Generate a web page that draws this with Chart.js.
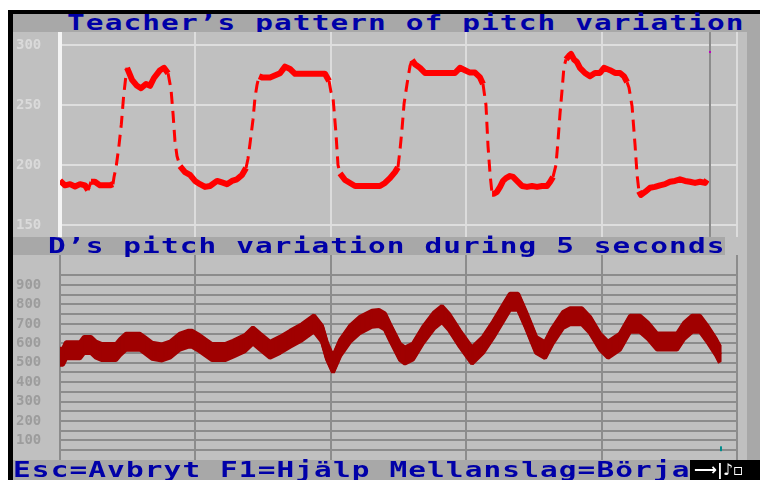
<!DOCTYPE html>
<html>
<head>
<meta charset="utf-8">
<script src="https://cdn.jsdelivr.net/npm/chart.js@4/dist/chart.umd.min.js"></script>
<style>
  html, body { margin: 0; padding: 0; background: #fff; width: 760px; height: 480px; overflow: hidden; }
  .abs { position: absolute; }
  .band { background: #a8a8a8; }
  .panel { background: #c0c0c0; }
  .dos { font-family: 'DejaVu Sans Mono', monospace; font-weight: bold; font-size: 21px;
         color: #0000a8; letter-spacing: 0.8px; white-space: pre; line-height: 18px;
         transform: scaleX(1.4); transform-origin: 0 0; }
  canvas { position: absolute; }
</style>
</head>
<body>
<div class="abs" style="left:8px;top:10px;width:752px;height:470px;background:#000"></div>

<!-- upper panel: teacher -->
<div class="abs band" style="left:13px;top:14px;width:747px;height:18px"></div>
<div class="abs dos" style="left:67px;top:14px;height:18px">Teacher’s pattern of pitch variation</div>
<div class="abs panel" style="left:13px;top:32px;width:734px;height:205px"></div>
<div class="abs band" style="left:747px;top:32px;width:13px;height:428px"></div>
<canvas id="teacher" width="734" height="205" style="left:13px;top:32px"></canvas>

<!-- lower panel: student -->
<div class="abs panel" style="left:13px;top:237px;width:734px;height:223px"></div>
<div class="abs band" style="left:13px;top:237px;width:712px;height:18px"></div>
<div class="abs dos" style="left:48px;top:237px;height:18px">D’s pitch variation during 5 seconds</div>
<canvas id="student" width="734" height="205" style="left:13px;top:255px"></canvas>

<!-- status line -->
<div class="abs band" style="left:13px;top:460px;width:677px;height:20px"></div>
<div class="abs dos" style="left:13px;top:460px;height:20px;line-height:20px">Esc=Avbryt F1=Hjälp Mellanslag=Börja</div>
<div class="abs" style="left:694px;top:460px;height:20px;line-height:20px;color:#fff;font-family:'DejaVu Sans',sans-serif;font-size:16px;font-weight:bold;white-space:pre">⟶|♪▫</div>

<script>
// ---- time axis (seconds) ----
const secondTicks = [0, 1, 2, 3, 4, 5];

// ---- teacher pitch (Hz) ----
const teacherTime = [
  0.000, 0.037, 0.074, 0.111, 0.148, 0.185, 0.207, 0.229, 0.258, 0.295, 0.332, 0.369, 0.391, 0.399,
  0.414, 0.434, 0.453, 0.470, 0.485, 0.495, 0.510, 0.532, 0.569, 0.598, 0.635, 0.665, 0.694, 0.739,
  0.768, 0.798, 0.820, 0.835, 0.849, 0.864, 0.886, 0.923, 0.960, 0.997, 1.034, 1.071, 1.108, 1.160,
  1.196, 1.233, 1.270, 1.307, 1.344, 1.374, 1.388, 1.403, 1.425, 1.440, 1.455, 1.470, 1.492, 1.551,
  1.625, 1.662, 1.699, 1.736, 1.809, 1.883, 1.957, 1.987, 2.001, 2.016, 2.038, 2.053, 2.068, 2.105,
  2.142, 2.179, 2.253, 2.326, 2.363, 2.400, 2.437, 2.474, 2.496, 2.511, 2.526, 2.541, 2.563, 2.585,
  2.600, 2.622, 2.659, 2.696, 2.806, 2.917, 2.954, 2.991, 3.028, 3.065, 3.102, 3.124, 3.146, 3.161,
  3.176, 3.191, 3.205, 3.227, 3.250, 3.272, 3.294, 3.323, 3.346, 3.375, 3.412, 3.449, 3.486, 3.523,
  3.560, 3.597, 3.619, 3.641, 3.663, 3.678, 3.693, 3.708, 3.722, 3.737, 3.759, 3.774, 3.796, 3.818,
  3.840, 3.877, 3.914, 3.951, 3.988, 4.018, 4.062, 4.099, 4.136, 4.165, 4.188, 4.202, 4.225, 4.247,
  4.262, 4.276, 4.291, 4.321, 4.358, 4.394, 4.431, 4.468, 4.505, 4.542, 4.579, 4.616, 4.653, 4.690,
  4.727, 4.764, 4.778
];
const teacherHz = [
  187, 183, 184, 182, 184, 183, 179, 186, 186, 183, 183, 183, 184, 190,
  198, 214.6, 234, 257.5, 272.5, 281, 277, 271, 266, 264, 267.5, 266, 272.5, 279,
  281, 276.5, 263, 242.5, 220, 207.5, 199, 194, 191.7, 186.7, 184, 181.7, 182.5, 186.7,
  185.4, 184, 186.7, 188, 191.7, 197.5, 205, 217.5, 237.5, 256, 266.7, 274, 273, 273,
  276.5, 282, 280, 276, 276, 276, 276, 270, 261, 256.7, 226.7, 200, 193, 187.5,
  185, 182.5, 182.5, 182.5, 182.5, 185, 189, 194, 198, 212.5, 230, 251, 267.5, 282.5,
  287.5, 284, 281, 276.7, 276.7, 276.7, 281, 279, 277, 277, 273, 267.5, 250, 216,
  192.5, 176, 176, 177.5, 181.7, 186.7, 189, 190.8, 190, 186.7, 182.5, 181.7, 182.5, 181.7,
  182.5, 182.5, 185.8, 190, 200, 220, 243, 262.5, 281.7, 288, 291, 292.5, 288, 285.8,
  281, 276.7, 274, 276.7, 276.7, 281, 279, 276.7, 276.7, 274, 269, 264.6, 249, 216.7,
  191.7, 178, 175, 177.5, 181, 181.7, 183, 184, 186, 186.7, 188, 186.7, 186, 185,
  186, 185, 187.5
];
const teacherTicks = [150, 200, 250, 300];

// ---- student pitch (Hz) ----
const studentTime = [
  0.000, 0.022, 0.044, 0.148, 0.177, 0.229, 0.266, 0.310, 0.414, 0.443, 0.487, 0.591, 0.628, 0.679,
  0.753, 0.812, 0.886, 0.945, 0.975, 1.019, 1.071, 1.123, 1.219, 1.278, 1.366, 1.425, 1.477, 1.551,
  1.625, 1.699, 1.787, 1.876, 1.935, 1.972, 2.016, 2.068, 2.142, 2.216, 2.304, 2.356, 2.400, 2.437,
  2.511, 2.548, 2.607, 2.681, 2.762, 2.821, 2.873, 2.954, 3.043, 3.124, 3.198, 3.279, 3.323, 3.383,
  3.442, 3.516, 3.582, 3.634, 3.715, 3.767, 3.855, 3.914, 3.988, 4.047, 4.136, 4.210, 4.284, 4.343,
  4.409, 4.557, 4.609, 4.668, 4.727, 4.778, 4.845, 4.874
];
const studentHz = [
  531, 531, 564, 564, 591, 591, 567, 555, 555, 580, 608, 608, 589, 562,
  553, 567, 609, 623, 623, 606, 580, 555, 555, 572, 601, 640, 609, 567,
  592, 623, 657, 702, 649, 560, 491, 575, 649, 695, 726, 730, 712, 658,
  556, 537, 558, 643, 717, 751, 710, 623, 537, 592, 669, 763, 814, 814,
  720, 592, 565, 635, 720, 739, 739, 695, 609, 567, 609, 700, 700, 664,
  609, 609, 664, 700, 700, 652, 580, 541
];
const studentLabels = [100, 200, 300, 400, 500, 600, 700, 800, 900];
const studentGrid = [50, 100, 150, 200, 250, 300, 350, 400, 450, 500, 550, 600, 650, 700, 750, 800, 850, 900, 950];

// ---- playback markers ----
const cursorTime = 4.8;
const cursorHz = 294;
const endMarkTime = 4.88;
const endMarkRange = [45, 70];

const toPoints = (xs, ys) => xs.map((x, i) => ({ x, y: ys[i] }));

// Pen that also paints the line shifted up and down, giving the thick vertical-brush band.
const verticalBrush = {
  id: 'verticalBrush',
  afterDatasetDraw(chart, args) {
    const ds = chart.data.datasets[args.index];
    if (!ds.brushReach) return;
    const { ctx, chartArea: a } = chart;
    ctx.save();
    ctx.beginPath();
    ctx.rect(a.left, a.top, a.right - a.left, a.bottom - a.top);
    ctx.clip();
    for (let dy = -ds.brushReach; dy <= ds.brushReach; dy += 1) {
      ctx.save();
      ctx.translate(0, dy);
      args.meta.dataset.draw(ctx, a);
      ctx.restore();
    }
    ctx.restore();
  }
};

// Playback cursor in the upper panel, end marker in the lower one.
const markers = {
  id: 'markers',
  afterDatasetsDraw(chart, args, opts) {
    const { ctx, chartArea: a, scales: { x, y } } = chart;
    ctx.save();
    if (opts.cursor) {
      const px = Math.round(x.getPixelForValue(cursorTime));
      ctx.fillStyle = '#8c8c8c';
      ctx.fillRect(px - 1, a.top, 2, a.bottom - a.top);
      ctx.fillStyle = '#c000c0';
      ctx.fillRect(px - 1, Math.round(y.getPixelForValue(cursorHz)) - 1, 2, 2);
    }
    if (opts.endMark) {
      const px = Math.round(x.getPixelForValue(endMarkTime));
      const y0 = y.getPixelForValue(endMarkRange[1]);
      const y1 = y.getPixelForValue(endMarkRange[0]);
      ctx.fillStyle = '#008c8c';
      ctx.fillRect(px - 1, y0, 2, y1 - y0);
    }
    ctx.restore();
  }
};

const tickFont = { family: "'DejaVu Sans Mono', monospace", size: 14, weight: 'bold', lineHeight: 0.01 };
const steep = c => Math.abs(c.p1.y - c.p0.y) > 2.5 * Math.abs(c.p1.x - c.p0.x);

function timeAxis(gridColor) {
  return {
    type: 'linear', min: 0, max: 5,
    afterBuildTicks: s => { s.ticks = secondTicks.map(v => ({ value: v })); },
    ticks: { display: false },
    grid: { color: gridColor, lineWidth: 2, drawTicks: false },
    border: { display: false }
  };
}

new Chart(document.getElementById('teacher'), {
  type: 'line',
  data: {
    datasets: [{
      data: toPoints(teacherTime, teacherHz),
      borderColor: '#ff0000',
      borderWidth: 6,
      borderJoinStyle: 'round',
      pointRadius: 0,
      tension: 0,
      segment: {
        borderDash: c => steep(c) ? [12, 7] : undefined,
        borderWidth: c => steep(c) ? 3 : undefined
      }
    }]
  },
  options: {
    responsive: false, animation: false,
    layout: { padding: { left: 3, right: 10, top: 0, bottom: 0 } },
    plugins: { legend: { display: false }, tooltip: { enabled: false }, markers: { cursor: true } },
    scales: {
      x: timeAxis('#dcdcdc'),
      y: {
        min: 140, max: 310.8,
        afterBuildTicks: s => { s.ticks = teacherTicks.map(v => ({ value: v })); },
        afterFit: s => { s.width = 44; },
        ticks: { color: '#dadada', font: tickFont, crossAlign: 'far', padding: 0 },
        grid: { color: '#dedede', lineWidth: 2, drawTicks: false },
        border: { display: true, color: '#f4f4f4', width: 4 }
      }
    }
  },
  plugins: [markers]
});

new Chart(document.getElementById('student'), {
  type: 'line',
  data: {
    datasets: [{
      data: toPoints(studentTime, studentHz),
      borderColor: '#a00000',
      borderWidth: 4,
      borderJoinStyle: 'bevel',
      pointRadius: 0,
      tension: 0,
      brushReach: 8
    }]
  },
  options: {
    responsive: false, animation: false,
    layout: { padding: { left: 3, right: 10, top: 0, bottom: 0 } },
    plugins: { legend: { display: false }, tooltip: { enabled: false }, markers: { endMark: true } },
    scales: {
      x: timeAxis('#8c8c8c'),
      y: {
        min: 0, max: 1054,
        afterBuildTicks: s => { s.ticks = studentGrid.map(v => ({ value: v })); },
        afterFit: s => { s.width = 44; },
        ticks: {
          color: '#9c9c9c', font: tickFont, crossAlign: 'far', padding: 0,
          callback: v => studentLabels.includes(v) ? String(v) : ''
        },
        grid: { color: '#8c8c8c', lineWidth: 2, drawTicks: false },
        border: { display: true, color: '#8c8c8c', width: 2 }
      }
    }
  },
  plugins: [verticalBrush, markers]
});
</script>
</body>
</html>
